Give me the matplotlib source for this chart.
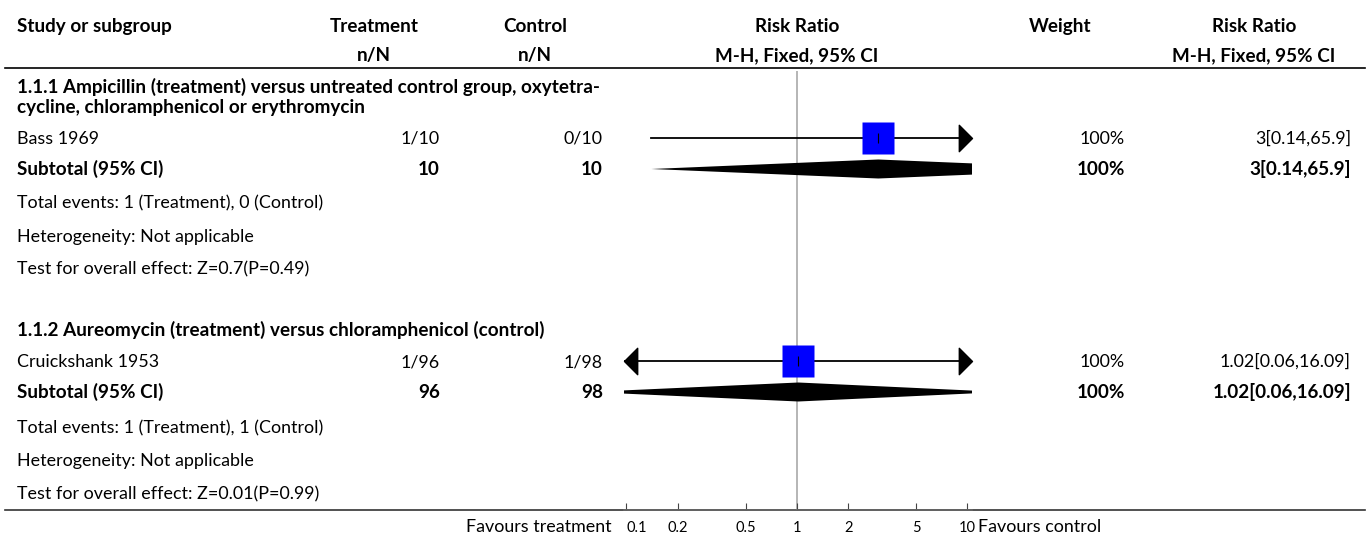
"""
Forest plot: antibiotic treatment vs control, risk ratios (M-H, fixed effect)
"""
import matplotlib.pyplot as plt
from matplotlib.path import Path
import numpy as np

plt.rcParams['font.family'] = ['Lato', 'DejaVu Sans']

# ---- data ----
group_titles = [
    "1.1.1 Ampicillin (treatment) versus untreated control group, oxytetra-\n"
    "cycline, chloramphenicol or erythromycin",
    "1.1.2 Aureomycin (treatment) versus chloramphenicol (control)",
]
studies = ["Bass 1969", "Cruickshank 1953"]
treat_events = [1, 1]
treat_total = [10, 96]
ctrl_events = [0, 1]
ctrl_total = [10, 98]
study_rr = [3, 1.02]
study_lo = [0.14, 0.06]
study_hi = [65.9, 16.09]
study_weight = [100, 100]

sub_rr = [3, 1.02]
sub_lo = [0.14, 0.06]
sub_hi = [65.9, 16.09]
sub_weight = [100, 100]

heterogeneity = ["Not applicable", "Not applicable"]
overall_z = ["0.7", "0.01"]
overall_p = ["0.49", "0.99"]

ticks = [0.1, 0.2, 0.5, 1, 2, 5, 10]
tick_labels = ["0.1", "0.2", "0.5", "1", "2", "5", "10"]

# ---- layout (pixel rows) ----
W, H = 1370, 540
FS = 12.9      # regular text
FB = 13.6      # bold text
BASE = 6       # row centre -> text baseline
group_y = [[87, 107], [330]]
study_y = [138, 361]
sub_y = [169, 392]
foot_y = [[202, 236, 268], [427, 460, 493]]

x_left = 17
x_trt = 440
x_ctl = 603
x_wt = 1125
x_rr = 1351

fig = plt.figure(figsize=(W / 100, H / 100), dpi=100)
ax = fig.add_axes([0, 0, 1, 1])
ax.set_xlim(0, W)
ax.set_ylim(H, 0)
ax.axis('off')


def txt(x, y, s, ha='left', bold=False):
    ax.text(x, y + BASE, s, ha=ha, va='baseline',
            fontsize=FB if bold else FS,
            fontweight='bold' if bold else 'normal')


# header
txt(x_left, 26, "Study or subgroup", bold=True)
txt(374, 26, "Treatment", 'center', True)
txt(374, 55, "n/N", 'center', True)
txt(535, 26, "Control", 'center', True)
txt(535, 55, "n/N", 'center', True)
txt(797, 26, "Risk Ratio", 'center', True)
txt(797, 55, "M-H, Fixed, 95% CI", 'center', True)
txt(1060, 26, "Weight", 'center', True)
txt(1254, 26, "Risk Ratio", 'center', True)
txt(1254, 55, "M-H, Fixed, 95% CI", 'center', True)
ax.plot([5, 1365], [68, 68], color='black', lw=1.2)
ax.plot([5, 1365], [510, 510], color='#333333', lw=1.2)

# forest axes, log scale
fx = fig.add_axes([624 / W, (H - 510) / H, (972 - 624) / W, (510 - 71) / H])
fx.set_xscale('log')
fx.set_xlim(0.0967, 10.63)
fx.set_ylim(510, 71)
fx.patch.set_alpha(0)
for s in ['top', 'left', 'right']:
    fx.spines[s].set_visible(False)
fx.spines['bottom'].set_color('#666666')
fx.spines['bottom'].set_linewidth(1.2)
fx.set_yticks([])
fx.set_xticks(ticks)
fx.set_xticklabels(tick_labels)
fx.minorticks_off()
fx.tick_params(axis='x', direction='in', length=5, width=0.8, color='#444444',
               labelsize=10.5, pad=8)
fx.get_xticklabels()[0].set_horizontalalignment('left')
fx.axvline(1, color='#b0b0b0', lw=1.3, zorder=0)

txt(612, 526, "Favours treatment", 'right')
txt(978, 526, "Favours control")

arrow_r = Path([(-1, 1), (0, 0), (-1, -1), (-1, 1)],
               [Path.MOVETO, Path.LINETO, Path.LINETO, Path.CLOSEPOLY])
arrow_l = Path([(1, 1), (0, 0), (1, -1), (1, 1)],
               [Path.MOVETO, Path.LINETO, Path.LINETO, Path.CLOSEPOLY])
xmin, xmax = fx.get_xlim()

for i in range(len(studies)):
    # subgroup title
    for k, line in enumerate(group_titles[i].split('\n')):
        txt(x_left, group_y[i][k], line, bold=True)

    # study row
    y = study_y[i]
    txt(x_left, y, studies[i])
    txt(x_trt, y, f"{treat_events[i]}/{treat_total[i]}", 'right')
    txt(x_ctl, y, f"{ctrl_events[i]}/{ctrl_total[i]}", 'right')
    txt(x_wt, y, f"{study_weight[i]}%", 'right')
    txt(x_rr, y, f"{study_rr[i]:g}[{study_lo[i]:g},{study_hi[i]:g}]", 'right')

    lo = max(study_lo[i], xmin)
    hi = min(study_hi[i], xmax)
    fx.plot([lo, hi], [y, y], color='black', lw=1.3, zorder=2)
    if study_hi[i] > xmax:
        fx.plot([xmax], [y], marker=arrow_r, ms=19, color='black',
                clip_on=False, zorder=3)
    if study_lo[i] < xmin:
        fx.plot([xmin], [y], marker=arrow_l, ms=19, color='black',
                clip_on=False, zorder=3)
    fx.plot([study_rr[i]], [y], marker='s', ms=22.5, color='#0000ff',
            mec='none', zorder=4)
    fx.plot([study_rr[i]], [y], marker='|', ms=7, mew=0.8, color='black', zorder=5)

    # subtotal row
    y = sub_y[i]
    txt(x_left, y, "Subtotal (95% CI)", bold=True)
    txt(x_trt, y, f"{treat_total[i]}", 'right', True)
    txt(x_ctl, y, f"{ctrl_total[i]}", 'right', True)
    txt(x_wt, y, f"{sub_weight[i]}%", 'right', True)
    txt(x_rr, y, f"{sub_rr[i]:g}[{sub_lo[i]:g},{sub_hi[i]:g}]", 'right', True)
    dh = 9.5
    fx.fill([sub_lo[i], sub_rr[i], sub_hi[i], sub_rr[i]],
            [y, y - dh, y, y + dh], color='black', lw=0, zorder=3)

    # footnotes
    fy = foot_y[i]
    txt(x_left, fy[0],
        f"Total events: {treat_events[i]} (Treatment), {ctrl_events[i]} (Control)")
    txt(x_left, fy[1], f"Heterogeneity: {heterogeneity[i]}")
    txt(x_left, fy[2],
        f"Test for overall effect: Z={overall_z[i]}(P={overall_p[i]})")

fig.savefig('out.png', dpi=100)
